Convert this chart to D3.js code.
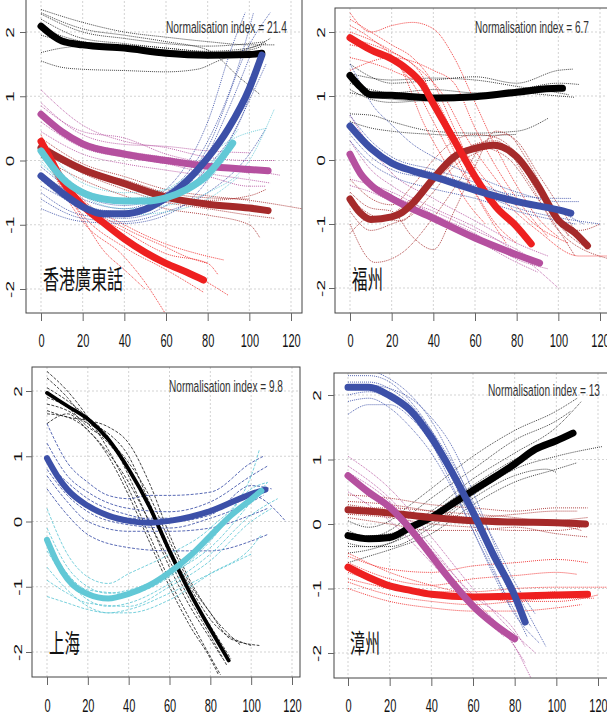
<!DOCTYPE html>
<html>
<head>
<meta charset="utf-8">
<script src="https://cdn.jsdelivr.net/npm/d3@7"></script>
<style>
  body { margin: 0; background: #fff; }
  svg { display: block; }
  text { font-family: "Liberation Sans", Arial, sans-serif; }
</style>
</head>
<body>
<svg id="chart" width="607" height="718"></svg>
<script>
var xTicks = [0, 20, 40, 60, 80, 100, 120];
var yTicks = [-2, -1, 0, 1, 2];
var regionNames = ['香港廣東話', '福州', '上海', '漳州'];
var normIndex = ['21.4', '6.7', '9.8', '13'];

// 香港廣東話 - thick means
var hkBlack = [[0,2.09],[10,1.86],[20,1.8],[40,1.75],[60,1.67],[80,1.64],[100,1.65],[106,1.67]];
var hkMagenta = [[0,0.72],[10,0.45],[20,0.26],[40,0.1],[60,0.0],[80,-0.09],[100,-0.14],[109,-0.16]];
var hkBrown = [[0,0.2],[20,-0.14],[40,-0.36],[60,-0.57],[80,-0.68],[100,-0.74],[109,-0.78]];
var hkRed = [[0,0.3],[5,0.0],[10,-0.3],[20,-0.7],[30,-0.97],[40,-1.22],[50,-1.43],[60,-1.6],[70,-1.74],[78,-1.86]];
var hkBlue = [[0,-0.24],[10,-0.5],[20,-0.72],[30,-0.83],[40,-0.83],[50,-0.76],[60,-0.58],[70,-0.32],[80,0.04],[90,0.5],[100,1.12],[106,1.64]];
var hkCyan = [[0,0.15],[10,-0.27],[20,-0.5],[30,-0.6],[40,-0.63],[50,-0.63],[60,-0.58],[70,-0.45],[80,-0.22],[90,0.18],[92,0.27]];

// 香港廣東話 - individual speakers
var hkBlackThin = [
  [[0,2.35],[20,2.15],[40,2.0],[60,1.92],[80,1.85],[100,1.8],[112,1.8]],
  [[0,2.28],[20,2.0],[40,1.9],[60,1.82],[80,1.78],[100,1.82],[108,1.85]],
  [[0,2.2],[20,1.9],[40,1.82],[60,1.75],[80,1.7],[100,1.75],[110,1.9]],
  [[0,2.05],[20,1.85],[40,1.78],[60,1.72],[80,1.68],[100,1.72],[106,1.78]],
  [[0,1.68],[10,1.75],[20,1.78],[40,1.75],[60,1.7],[80,1.65],[100,1.65]],
  [[0,1.55],[10,1.45],[20,1.42],[40,1.4],[60,1.38],[75,1.42],[85,1.55],[100,1.75],[108,1.82]],
  [[0,2.3],[20,2.05],[40,1.95],[60,1.85],[80,1.72],[95,1.3],[105,1.03]],
  [[0,1.95],[20,1.82],[40,1.8],[60,1.75],[80,1.68],[100,1.62]]
];
var hkMagentaThin = [
  [[0,1.1],[20,0.55],[40,0.3],[60,0.2],[80,0.05],[100,0.0],[112,0.0]],
  [[0,0.9],[20,0.4],[40,0.25],[60,0.22],[80,0.15],[100,0.12]],
  [[0,0.75],[20,0.3],[40,0.15],[60,0.05],[80,-0.05],[100,-0.15],[115,-0.23]],
  [[0,0.6],[20,0.2],[40,0.05],[60,-0.05],[80,-0.2],[100,-0.3],[110,-0.35]],
  [[0,0.45],[20,0.1],[40,-0.05],[60,-0.15],[80,-0.25],[100,-0.4],[108,-0.4]],
  [[0,0.85],[20,0.45],[40,0.35],[60,0.1],[80,-0.05],[100,-0.2]]
];
var hkBrownThin = [
  [[0,0.35],[20,-0.05],[40,-0.25],[60,-0.45],[80,-0.55],[100,-0.62],[125,-0.75]],
  [[0,0.15],[20,-0.2],[40,-0.45],[60,-0.65],[80,-0.75],[100,-0.85],[112,-0.9]],
  [[0,0.25],[20,-0.1],[40,-0.35],[60,-0.55],[80,-0.62],[100,-0.55],[108,-0.45]],
  [[0,0.05],[20,-0.3],[40,-0.55],[60,-0.75],[80,-0.85],[100,-1.0],[105,-1.2]],
  [[0,0.3],[20,-0.15],[40,-0.3],[60,-0.5],[80,-0.58],[100,-0.6]]
];
var hkRedThin = [
  [[0,0.35],[10,-0.2],[20,-0.6],[40,-1.0],[60,-1.3],[75,-1.45],[88,-1.55]],
  [[0,0.3],[10,-0.3],[20,-0.7],[40,-1.1],[60,-1.45],[80,-1.6],[85,-1.78]],
  [[0,0.2],[10,-0.4],[20,-0.85],[40,-1.35],[60,-1.7],[78,-2.05]],
  [[0,0.25],[10,-0.45],[20,-0.95],[40,-1.5],[50,-1.9],[60,-2.4]],
  [[0,0.15],[10,-0.35],[20,-0.75],[40,-1.2],[60,-1.6],[80,-1.9],[90,-2.1]],
  [[0,0.4],[10,-0.25],[20,-0.65],[40,-1.05],[60,-1.35],[70,-1.5],[80,-1.6]],
  [[0,0.1],[20,-0.9],[30,-1.4],[40,-1.7],[50,-2.0]]
];
var hkBlueThin = [
  [[0,-0.1],[20,-0.55],[40,-0.7],[60,-0.5],[80,0.3],[95,1.5],[102,2.3]],
  [[0,-0.3],[20,-0.75],[40,-0.85],[60,-0.6],[80,0.2],[100,1.8],[110,2.3]],
  [[0,-0.5],[20,-0.85],[40,-0.9],[60,-0.7],[75,-0.2],[90,0.8],[100,1.6]],
  [[0,-0.75],[20,-0.95],[40,-0.98],[60,-0.85],[80,-0.3],[95,0.6],[108,1.5]],
  [[0,-0.2],[20,-0.6],[40,-0.75],[60,-0.45],[80,0.6],[92,1.8],[98,2.3]],
  [[0,-0.6],[20,-0.9],[40,-0.95],[60,-0.8],[80,-0.5],[100,0.1],[108,0.5]],
  [[0,-0.4],[20,-0.7],[40,-0.8],[60,-0.65],[80,-0.1],[100,1.0],[106,1.7]]
];
var hkCyanThin = [
  [[0,0.3],[20,-0.35],[40,-0.5],[60,-0.45],[80,-0.1],[95,0.5]],
  [[0,0.1],[20,-0.55],[40,-0.75],[60,-0.7],[80,-0.5],[100,0.0],[112,0.8]],
  [[0,0.0],[20,-0.65],[40,-0.85],[60,-0.8],[80,-0.6],[95,-0.25]],
  [[0,0.2],[20,-0.45],[40,-0.6],[60,-0.55],[80,-0.3],[92,0.2]],
  [[0,-0.05],[20,-0.5],[40,-0.6],[60,-0.45],[70,-0.25],[90,0.3],[108,0.5]]
];

// 福州 - thick means
var fzBlack = [[0,1.32],[5,1.14],[10,1.02],[20,1.01],[40,0.97],[60,0.99],[80,1.06],[100,1.12],[102,1.12]];
var fzMagenta = [[0,0.09],[5,-0.21],[10,-0.39],[20,-0.6],[40,-0.91],[60,-1.22],[80,-1.48],[91,-1.61]];
var fzBrown = [[0,-0.61],[5,-0.83],[10,-0.93],[20,-0.89],[25,-0.82],[30,-0.68],[40,-0.29],[50,0.05],[60,0.18],[69,0.23],[80,0.05],[90,-0.39],[100,-0.94],[108,-1.14],[114,-1.34]];
var fzRed = [[0,1.91],[10,1.72],[20,1.58],[27,1.43],[35,1.17],[40,0.88],[50,0.31],[60,-0.26],[70,-0.73],[80,-1.04],[87,-1.31]];
var fzBlue = [[0,0.53],[10,0.18],[20,-0.05],[30,-0.17],[40,-0.26],[60,-0.47],[80,-0.65],[100,-0.78],[106,-0.83]];

// 福州 - individual speakers
var fzBlackThin = [
  [[0,1.5],[10,1.3],[20,1.2],[40,1.25],[60,1.3],[80,1.2],[100,1.4],[107,1.42]],
  [[0,1.2],[10,1.1],[20,1.05],[40,1.1],[60,1.05],[80,1.1],[100,1.2],[110,1.18]],
  [[0,1.1],[10,0.95],[20,0.9],[40,0.95],[60,1.0],[80,1.05],[100,1.0],[108,0.98]],
  [[0,1.35],[20,1.25],[40,1.28],[60,1.25],[80,1.15],[100,1.05],[105,1.02]],
  [[0,0.72],[10,0.7],[20,0.6],[40,0.45],[60,0.42],[80,0.45],[95,0.65]],
  [[0,0.6],[10,0.5],[20,0.45],[40,0.4],[60,0.38],[80,0.4]],
  [[0,1.05],[20,0.95],[40,0.92],[60,0.95],[80,1.1],[100,1.1]]
];
var fzMagentaThin = [
  [[0,0.7],[10,0.2],[20,-0.2],[40,-0.6],[60,-0.95],[80,-1.3],[95,-1.5]],
  [[0,0.3],[10,-0.15],[20,-0.4],[40,-0.75],[60,-1.05],[80,-1.45],[100,-2.0]],
  [[0,-0.4],[10,-0.5],[20,-0.65],[40,-0.95],[60,-1.25],[80,-1.6],[90,-1.75]],
  [[0,-0.3],[20,-0.5],[40,-0.85],[60,-1.15],[80,-1.55],[95,-1.7]],
  [[0,0.0],[10,-0.35],[20,-0.55],[40,-0.8],[60,-1.1],[80,-1.4],[90,-1.6]]
];
var fzBrownThin = [
  [[0,-0.3],[10,-0.6],[20,-0.7],[30,-0.4],[40,0.0],[50,0.3],[60,0.4],[70,0.35],[80,0.1],[90,-0.4],[100,-0.9],[110,-1.1],[120,-1.0]],
  [[0,-0.8],[10,-1.1],[20,-1.0],[30,-0.85],[40,-0.5],[50,-0.1],[60,0.1],[70,0.2],[80,0.0],[90,-0.5],[100,-1.0],[115,-1.4]],
  [[0,-1.0],[12,-1.6],[25,-1.45],[40,-0.9],[55,-0.2],[65,0.3],[75,0.4],[85,0.0],[95,-0.6],[105,-1.2]],
  [[0,-0.5],[10,-0.75],[20,-0.8],[30,-1.2],[40,-1.4],[50,-0.8],[60,-0.1],[70,0.45],[80,0.3],[90,-0.2],[100,-0.7],[112,-1.3]],
  [[0,-0.6],[15,-0.9],[30,-0.6],[45,-0.2],[60,0.25],[70,0.3],[85,-0.3],[100,-1.1],[125,-1.55]],
  [[0,-1.15],[10,-0.9],[25,-0.95],[35,-0.55],[50,0.1],[62,0.2],[75,0.05],[90,-0.6],[108,-1.5]]
];
var fzRedThin = [
  [[0,2.3],[10,2.0],[20,2.1],[30,2.15],[40,2.05],[50,1.6],[60,0.9],[70,0.2],[80,-0.4],[90,-0.9],[100,-1.2]],
  [[0,2.2],[20,1.8],[30,1.6],[40,1.2],[50,0.5],[60,-0.2],[70,-0.7],[80,-1.1]],
  [[0,2.0],[20,1.7],[35,1.3],[45,0.5],[55,-0.2],[65,-0.8],[75,-1.3]],
  [[0,1.6],[20,1.4],[40,1.0],[50,0.4],[60,-0.1],[70,-0.5],[90,-1.1],[110,-1.5],[125,-1.5]],
  [[0,1.8],[20,1.55],[30,1.2],[40,0.6],[50,0.0],[60,-0.5],[70,-1.0],[80,-1.3]],
  [[0,1.4],[20,1.6],[40,1.4],[50,1.2],[60,0.5],[70,-0.1],[80,-0.6],[95,-1.2]],
  [[0,2.1],[10,1.9],[25,1.4],[35,0.6],[45,0.0],[55,-0.6],[65,-1.0]],
  [[0,1.9],[15,1.75],[30,1.5],[45,1.0],[55,0.4],[70,-0.3],[85,-0.9],[105,-1.3]]
];
var fzBlueThin = [
  [[0,1.5],[5,1.2],[10,0.9],[20,0.55],[30,0.25],[40,0.05],[60,-0.25],[80,-0.5],[100,-0.65],[110,-0.65]],
  [[0,0.7],[10,0.3],[20,0.05],[40,-0.15],[60,-0.35],[80,-0.6],[100,-0.8],[112,-1.0]],
  [[0,0.4],[10,0.05],[20,-0.15],[40,-0.3],[60,-0.5],[80,-0.75],[100,-0.9],[120,-1.0]],
  [[0,0.3],[10,-0.05],[20,-0.25],[40,-0.45],[60,-0.6],[80,-0.8],[100,-0.95],[108,-1.0]],
  [[0,0.55],[10,0.25],[20,0.0],[40,-0.2],[60,-0.4],[80,-0.55],[100,-0.6],[106,-0.6]]
];

// 上海 - thick means
var shBlack = [[0,1.97],[10,1.77],[20,1.57],[30,1.26],[40,0.8],[50,0.24],[60,-0.45],[70,-1.09],[80,-1.65],[89,-2.13]];
var shBlue = [[0,0.97],[5,0.7],[10,0.49],[20,0.24],[30,0.09],[40,0.01],[50,-0.02],[60,0.01],[80,0.16],[100,0.42],[107,0.49]];
var shCyan = [[0,-0.28],[5,-0.63],[10,-0.88],[20,-1.11],[30,-1.18],[40,-1.11],[50,-0.98],[60,-0.78],[70,-0.53],[80,-0.22],[90,0.09],[100,0.34],[105,0.47]];

// 上海 - individual speakers
var shBlackThin = [
  [[0,2.3],[10,2.0],[20,1.6],[30,1.1],[40,0.5],[50,-0.2],[60,-0.9],[70,-1.5],[85,-2.35]],
  [[0,2.2],[10,1.9],[20,1.5],[30,1.2],[40,0.8],[50,0.2],[60,-0.5],[70,-1.1],[80,-1.6],[90,-2.1]],
  [[0,1.8],[10,1.7],[20,1.5],[30,1.35],[40,1.0],[50,0.3],[60,-0.4],[70,-1.0],[80,-1.5],[100,-1.9]],
  [[0,1.7],[10,1.6],[20,1.55],[30,1.45],[40,1.2],[50,0.6],[60,-0.2],[70,-0.9],[80,-1.4],[95,-1.9]],
  [[0,1.65],[10,1.6],[20,1.4],[30,1.0],[40,0.4],[50,-0.3],[60,-1.0],[70,-1.6],[80,-2.1],[84,-2.35]],
  [[0,1.5],[10,1.65],[20,1.4],[30,1.05],[40,0.6],[50,0.0],[60,-0.7],[70,-1.3],[80,-1.8],[86,-2.1]],
  [[0,1.9],[10,1.75],[20,1.45],[30,1.25],[40,0.9],[50,0.4],[60,-0.3],[70,-0.95],[80,-1.4],[90,-1.8],[104,-1.9]],
  [[0,2.05],[10,1.85],[20,1.6],[30,1.3],[40,0.7],[50,0.0],[60,-0.6],[70,-1.2],[80,-1.75],[88,-2.2]]
];
var shBlueThin = [
  [[0,1.5],[10,0.9],[20,0.6],[30,0.4],[40,0.35],[50,0.4],[60,0.4],[80,0.45],[100,0.9],[106,1.0]],
  [[0,1.2],[10,0.7],[20,0.45],[40,0.2],[60,0.15],[80,0.3],[100,0.7],[108,0.85]],
  [[0,1.0],[10,0.5],[20,0.25],[40,0.05],[60,0.05],[80,0.15],[100,0.4],[117,0.0]],
  [[0,0.8],[10,0.4],[20,0.15],[40,-0.05],[60,-0.1],[80,0.05],[100,0.3],[106,0.4]],
  [[0,0.7],[10,0.3],[20,0.0],[40,-0.15],[60,-0.15],[80,-0.1],[100,0.1],[108,0.2]],
  [[0,0.5],[10,0.1],[20,-0.2],[40,-0.4],[60,-0.45],[80,-0.45],[100,-0.3],[108,-0.2]],
  [[0,0.9],[10,0.6],[20,0.35],[40,0.1],[60,0.0],[80,0.1],[100,0.55],[110,0.5]]
];
var shCyanThin = [
  [[0,0.2],[10,-0.5],[20,-0.85],[30,-0.95],[40,-0.8],[60,-0.5],[80,-0.1],[100,0.7],[104,1.1]],
  [[0,-0.1],[10,-0.7],[20,-1.0],[30,-1.1],[40,-1.05],[60,-0.8],[80,-0.4],[100,0.3],[108,0.6]],
  [[0,-0.45],[10,-0.9],[20,-1.2],[30,-1.3],[40,-1.25],[60,-0.95],[80,-0.5],[100,0.1],[113,0.35]],
  [[0,-0.7],[10,-1.05],[20,-1.3],[30,-1.4],[40,-1.4],[60,-1.2],[80,-0.8],[100,-0.4],[105,-0.2]],
  [[0,-1.15],[10,-1.25],[20,-1.35],[30,-1.4],[40,-1.35],[60,-1.1],[80,-0.8],[100,-0.5]],
  [[0,-0.9],[10,-1.1],[20,-1.25],[40,-1.3],[60,-1.0],[80,-0.6],[100,0.0],[110,0.2]],
  [[0,-0.3],[10,-0.8],[20,-1.05],[40,-1.1],[60,-0.85],[80,-0.3],[100,0.5],[108,0.6]]
];

// 漳州 - thick means
var zzBlack = [[0,-0.18],[10,-0.23],[20,-0.21],[30,-0.05],[40,0.1],[50,0.31],[60,0.52],[70,0.72],[80,0.93],[90,1.16],[100,1.29],[108,1.41]];
var zzMagenta = [[0,0.75],[10,0.49],[20,0.26],[30,-0.08],[40,-0.49],[50,-0.9],[60,-1.27],[70,-1.55],[80,-1.78]];
var zzBrown = [[0,0.22],[20,0.17],[40,0.1],[60,0.05],[80,0.03],[100,0.02],[114,0.0]];
var zzRed = [[0,-0.67],[10,-0.83],[20,-0.96],[30,-1.03],[40,-1.09],[60,-1.13],[80,-1.12],[100,-1.1],[115,-1.09]];
var zzBlue = [[0,2.12],[10,2.12],[20,1.99],[30,1.76],[40,1.34],[50,0.8],[60,0.18],[70,-0.49],[80,-1.11],[85,-1.52]];

// 漳州 - individual speakers
var zzBlackThin = [
  [[0,0.05],[10,-0.05],[20,0.05],[30,0.3],[40,0.55],[60,1.05],[80,1.45],[100,1.75],[110,1.95]],
  [[0,-0.1],[10,-0.2],[20,-0.1],[30,0.15],[40,0.4],[60,0.85],[80,1.3],[100,1.6],[107,1.75]],
  [[0,-0.3],[10,-0.35],[20,-0.3],[30,-0.1],[40,0.15],[60,0.6],[80,1.0],[100,1.3],[108,1.4]],
  [[0,-0.45],[10,-0.4],[20,-0.3],[40,0.0],[60,0.45],[80,0.85],[100,1.05],[122,1.2]],
  [[0,-0.6],[10,-0.5],[20,-0.4],[40,-0.15],[60,0.3],[80,0.65],[100,0.85],[110,0.95]],
  [[0,-0.2],[20,-0.15],[40,0.2],[60,0.7],[80,1.1],[100,1.5],[112,1.9]],
  [[0,-0.35],[20,-0.35],[40,-0.05],[60,0.4],[80,0.75],[95,0.85],[100,0.8]]
];
var zzMagentaThin = [
  [[0,1.05],[20,0.55],[40,-0.2],[60,-1.0],[80,-1.7],[90,-2.0]],
  [[0,0.9],[20,0.4],[40,-0.35],[60,-1.15],[80,-1.9],[88,-2.4]],
  [[0,0.7],[20,0.2],[40,-0.5],[60,-1.2],[80,-1.9],[85,-2.15]],
  [[0,0.5],[20,0.05],[40,-0.6],[60,-1.3],[75,-1.75]],
  [[0,0.8],[20,0.35],[40,-0.4],[60,-1.1],[80,-1.65],[85,-1.9]]
];
var zzBrownThin = [
  [[0,0.45],[20,0.4],[40,0.3],[60,0.25],[80,0.2],[100,0.25],[115,0.25]],
  [[0,0.35],[20,0.3],[40,0.2],[60,0.1],[80,0.15],[100,0.2],[110,0.2]],
  [[0,0.3],[20,0.2],[40,0.1],[60,0.05],[80,0.0],[100,0.05],[115,0.1]],
  [[0,0.15],[20,0.1],[40,0.0],[60,-0.05],[80,-0.1],[100,-0.1],[112,-0.05]],
  [[0,0.1],[20,0.0],[40,-0.1],[60,-0.1],[80,-0.05],[100,-0.15],[115,-0.2]],
  [[0,0.25],[20,0.25],[40,0.2],[60,0.15],[80,0.1],[100,0.0],[112,-0.1]]
];
var zzRedThin = [
  [[0,-0.5],[20,-0.7],[40,-0.75],[60,-0.65],[80,-0.6],[100,-0.55],[115,-0.6]],
  [[0,-0.6],[20,-0.85],[40,-0.95],[60,-0.85],[80,-0.8],[100,-0.75],[110,-0.78]],
  [[0,-0.75],[20,-0.95],[40,-1.05],[60,-1.05],[80,-1.0],[100,-0.98],[125,-0.98]],
  [[0,-0.9],[20,-1.1],[40,-1.2],[60,-1.25],[80,-1.2],[100,-1.15],[118,-1.15]],
  [[0,-1.0],[20,-1.2],[40,-1.3],[60,-1.35],[80,-1.35],[100,-1.3],[112,-1.25]],
  [[0,-0.45],[20,-0.75],[40,-0.95],[60,-1.1],[80,-1.2],[100,-1.2],[120,-1.1]],
  [[0,-0.85],[20,-1.0],[40,-1.1],[60,-1.15],[80,-1.1],[100,-1.05]]
];
var zzBlueThin = [
  [[0,2.4],[10,2.38],[20,2.25],[30,2.0],[40,1.6],[50,1.0],[60,0.3],[70,-0.4],[80,-1.0],[90,-1.6],[95,-1.9]],
  [[0,2.3],[10,2.3],[20,2.2],[30,1.9],[40,1.45],[50,0.85],[60,0.15],[70,-0.55],[80,-1.2],[88,-1.6]],
  [[0,2.0],[10,2.05],[20,1.95],[30,1.7],[40,1.3],[50,0.7],[60,0.0],[70,-0.7],[78,-1.3]],
  [[0,1.7],[10,1.85],[20,1.85],[30,1.65],[40,1.25],[50,0.6],[60,-0.1],[70,-0.75],[80,-1.35],[86,-1.75]],
  [[0,2.2],[10,2.2],[20,2.1],[30,1.85],[40,1.45],[50,0.95],[60,0.35],[70,-0.25],[80,-0.9],[90,-1.4]],
  [[0,1.9],[10,1.95],[20,1.8],[30,1.5],[40,1.1],[50,0.55],[60,-0.1],[70,-0.8],[80,-1.4],[92,-1.85]],
  [[0,2.1],[10,2.15],[20,2.1],[30,1.95],[40,1.65],[50,1.2],[60,0.5],[70,-0.3],[80,-1.05],[84,-1.3]]
];

var colours = {black: '#000000', blue: '#3c50a8', magenta: '#b5509f', cyan: '#62c8d6', brown: '#a52a2a', red: '#ee2020'};

// panel layout (pixel boxes)
var panels = [
  {box: [26, -3, 302, 313], xr: [41, 291], yr: [289, 32], ylab: 14, xlab: 347,
   idx: [166, 32, 121], name: [43, 289, 80], dash: '1,1', lw: [7, 7], groups: [
    ['black', hkBlack, hkBlackThin], ['magenta', hkMagenta, hkMagentaThin], ['brown', hkBrown, hkBrownThin],
    ['red', hkRed, hkRedThin], ['blue', hkBlue, hkBlueThin], ['cyan', hkCyan, hkCyanThin]]},
  {box: [335, 8, 612, 313], xr: [350, 600], yr: [288, 32], ylab: 325, xlab: 347,
   idx: [475, 32, 114], name: [352, 289, 31], dash: '1,1', lw: [7, 7], groups: [
    ['black', fzBlack, fzBlackThin], ['magenta', fzMagenta, fzMagentaThin], ['brown', fzBrown, fzBrownThin],
    ['red', fzRed, fzRedThin], ['blue', fzBlue, fzBlueThin]]},
  {box: [32, 367, 300, 677], xr: [47, 292], yr: [652, 391], ylab: 22, xlab: 712,
   idx: [169, 391, 114], name: [49, 653, 31], dash: '3,1.5', lw: [3.8, 6], groups: [
    ['black', shBlack, shBlackThin], ['blue', shBlue, shBlueThin], ['cyan', shCyan, shCyanThin]]},
  {box: [334, 373, 612, 678], xr: [348, 598], yr: [653, 395], ylab: 321, xlab: 712,
   idx: [488, 395, 112], name: [350, 653, 30], dash: '1,1', lw: [7, 7], groups: [
    ['black', zzBlack, zzBlackThin], ['brown', zzBrown, zzBrownThin], ['red', zzRed, zzRedThin],
    ['magenta', zzMagenta, zzMagentaThin], ['blue', zzBlue, zzBlueThin]]}
];

var svg = d3.select('#chart');

// narrow a text to a given width with a horizontal scale (the figure is squashed sideways)
function squeeze(sel, x, y, width) {
  var w = sel.node().getComputedTextLength();
  sel.attr('transform', 'translate(' + x + ',' + y + ') scale(' + (width / w) + ',1)');
}

panels.forEach(function(p, i) {
  var b = p.box;
  var x = d3.scaleLinear().domain([0, 120]).range(p.xr);
  var y = d3.scaleLinear().domain([-2, 2]).range(p.yr);
  var g = svg.append('g');

  g.append('clipPath').attr('id', 'clip' + i)
    .append('rect').attr('x', b[0]).attr('y', b[1]).attr('width', b[2] - b[0]).attr('height', b[3] - b[1]);

  // dotted grid
  g.selectAll('.gx').data(xTicks).enter().append('line')
    .attr('x1', function(d) { return x(d); }).attr('x2', function(d) { return x(d); })
    .attr('y1', b[1]).attr('y2', b[3])
    .style('stroke', '#d3d3d3').style('stroke-dasharray', '2,2');
  g.selectAll('.gy').data(yTicks).enter().append('line')
    .attr('x1', b[0]).attr('x2', b[2])
    .attr('y1', function(d) { return y(d); }).attr('y2', function(d) { return y(d); })
    .style('stroke', '#d3d3d3').style('stroke-dasharray', '2,2');

  var line = d3.line()
    .x(function(d) { return x(d[0]); })
    .y(function(d) { return y(d[1]); })
    .curve(d3.curveMonotoneX);

  var plot = g.append('g').attr('clip-path', 'url(#clip' + i + ')');

  // individual speakers first
  p.groups.forEach(function(grp) {
    plot.selectAll(null).data(grp[2]).enter().append('path')
      .attr('d', line)
      .style('fill', 'none')
      .style('stroke', grp[0] === 'black' ? '#222' : colours[grp[0]])
      .style('stroke-opacity', 0.85)
      .style('stroke-width', 1)
      .style('stroke-dasharray', p.dash);
  });

  // group means on top
  p.groups.forEach(function(grp) {
    plot.append('path').datum(grp[1])
      .attr('d', line)
      .style('fill', 'none')
      .style('stroke', colours[grp[0]])
      .style('stroke-width', grp[0] === 'black' ? p.lw[0] : p.lw[1])
      .style('stroke-linecap', 'round')
      .style('stroke-linejoin', 'round');
  });

  // box
  g.append('rect').attr('x', b[0]).attr('y', b[1]).attr('width', b[2] - b[0]).attr('height', b[3] - b[1])
    .style('fill', 'none').style('stroke', '#444').style('stroke-width', 1);

  // axes
  var xa = g.append('g').attr('transform', 'translate(0,' + b[3] + ')')
    .call(d3.axisBottom(x).tickValues(xTicks).tickSize(8).tickSizeOuter(0).tickFormat(function(d) { return String(d); }));
  xa.select('.domain').remove();
  xa.selectAll('line').style('stroke', '#666');
  xa.selectAll('text')
    .attr('y', p.xlab - b[3]).attr('dy', 0)
    .attr('transform', 'scale(0.58,1)')
    .style('font-size', '19px').style('fill', '#111')
    .style('font-family', '"Liberation Sans", Arial, sans-serif');

  var ya = g.append('g').attr('transform', 'translate(' + b[0] + ',0)')
    .call(d3.axisLeft(y).tickValues(yTicks).tickSize(6).tickSizeOuter(0).tickFormat(function(d) { return String(d); }));
  ya.select('.domain').remove();
  ya.selectAll('line').style('stroke', '#666');
  ya.selectAll('text')
    .attr('x', 0).attr('dy', 0).attr('text-anchor', 'middle')
    .attr('transform', 'translate(' + (p.ylab - b[0]) + ',0) scale(0.58,1) rotate(-90)')
    .style('font-size', '19px').style('fill', '#111')
    .style('font-family', '"Liberation Sans", Arial, sans-serif');

  var idx = g.append('text')
    .style('font-size', '17px').style('fill', '#333')
    .text('Normalisation index = ' + normIndex[i]);
  squeeze(idx, p.idx[0], p.idx[1] + 1, p.idx[2]);

  var nm = g.append('text')
    .style('font-size', '26px').style('fill', '#111')
    .style('font-family', '"Noto Sans CJK TC", "Noto Sans CJK SC", sans-serif')
    .text(regionNames[i]);
  squeeze(nm, p.name[0], p.name[1], p.name[2]);
});
</script>
